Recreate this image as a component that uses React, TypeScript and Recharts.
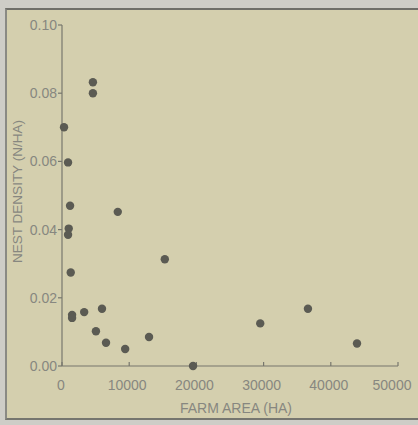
import React from "react";
import { ScatterChart, Scatter, XAxis, YAxis } from "recharts";

const farmArea = [300, 900, 4600, 4600, 1200, 1000, 900, 1300, 8300, 1500, 1500, 3300, 5950, 5050, 6550, 9400, 12950, 15300, 19500, 29500, 36600, 43900];
const nestDensity = [0.070, 0.0597, 0.0832, 0.0800, 0.0470, 0.0403, 0.0385, 0.0274, 0.0452, 0.0150, 0.0141, 0.0158, 0.0168, 0.0102, 0.0068, 0.0050, 0.0085, 0.0313, 0.0, 0.0125, 0.0168, 0.0066];
const xTicks = [0, 10000, 20000, 30000, 40000, 50000];
const yTicks = [0, 0.02, 0.04, 0.06, 0.08, 0.1];

const data = farmArea.map((a, i) => ({ area: a, density: nestDensity[i] }));

const TEXT = "#878780";
const AXIS = "#77776d";
const DOT = "#5b5b53";
const FONT = "'Liberation Sans', Arial, sans-serif";

const XTick = (p: any) => {
  const v = p.payload.value;
  const shift = v === 50000 ? -6 : v === 0 ? -1 : -2;
  return (
    <text x={p.x + shift} y={p.y} dy="0.71em" textAnchor="middle" fill={TEXT} fontSize={14} fontFamily={FONT}>
      {v}
    </text>
  );
};

export default function App() {
  return (
    <div style={{ position: "absolute", left: 0, top: 0, width: 418, height: 425, background: "#cecdc7", overflow: "hidden" }}>
      <div
        style={{
          position: "absolute",
          left: 5,
          top: 8,
          width: 413,
          height: 412,
          background: "#d4cfae",
          borderTop: "2px solid #6f6f69",
          borderLeft: "2px solid #8a8a84",
          borderBottom: "2px solid #76766f",
          boxSizing: "border-box",
        }}
      />
      <div style={{ position: "absolute", left: 0, top: 0 }}>
        <ScatterChart width={418} height={425} margin={{ top: 25, right: 20, left: 0, bottom: 0 }}>
          <XAxis
            type="number"
            dataKey="area"
            domain={[0, 50000]}
            ticks={xTicks}
            interval={0}
            height={59}
            axisLine={{ stroke: AXIS, strokeWidth: 1.2 }}
            tickLine={{ stroke: AXIS, strokeWidth: 1.2 }}
            tickSize={-4}
            tickMargin={18}
            tick={XTick}
            label={{
              content: (p: any) => {
                const vb = p.viewBox;
                return (
                  <text x={vb.x + vb.width / 2 + 6} y={vb.y + 47} textAnchor="middle" fill={TEXT} fontSize={14} fontFamily={FONT}>
                    FARM AREA (HA)
                  </text>
                );
              },
            }}
          />
          <YAxis
            type="number"
            dataKey="density"
            domain={[0, 0.1]}
            ticks={yTicks}
            interval={0}
            width={62}
            axisLine={{ stroke: AXIS, strokeWidth: 1.2 }}
            tickLine={{ stroke: AXIS, strokeWidth: 1.2 }}
            tickSize={4}
            tickMargin={1}
            tickFormatter={(v: number) => v.toFixed(2)}
            tick={{ fill: TEXT, fontSize: 14, fontFamily: FONT }}
            label={{
              content: (p: any) => {
                const vb = p.viewBox;
                const cx = vb.x + 17;
                const cy = vb.y + vb.height / 2 - 4;
                return (
                  <text x={cx} y={cy} transform={`rotate(-90 ${cx} ${cy})`} textAnchor="middle" dominantBaseline="central" fill={TEXT} fontSize={13.5} fontFamily={FONT}>
                    NEST DENSITY (N/HA)
                  </text>
                );
              },
            }}
          />
          <Scatter
            data={data}
            isAnimationActive={false}
            shape={(p: any) => <circle cx={p.cx} cy={p.cy} r={4.2} fill={DOT} />}
          />
        </ScatterChart>
      </div>
    </div>
  );
}
